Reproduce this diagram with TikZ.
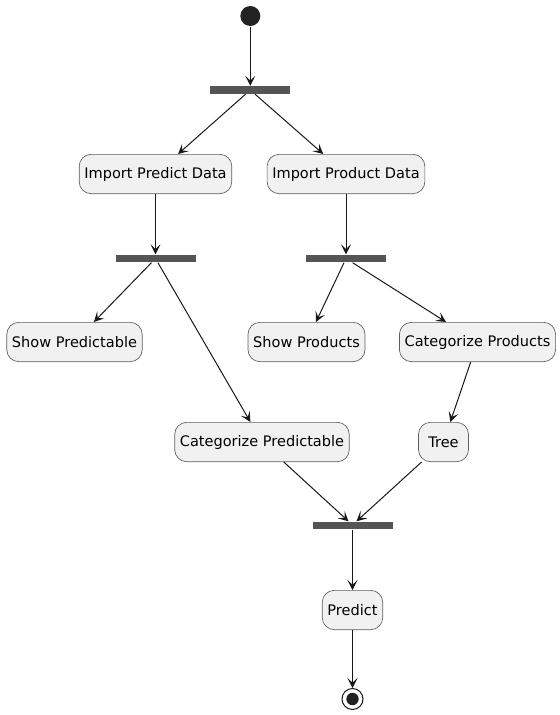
\documentclass[tikz,border=0pt]{standalone}
\usepackage{fontspec}
\setmainfont{DejaVu Sans}
\usetikzlibrary{arrows.meta}
\definecolor{actfill}{HTML}{F1F1F1}
\definecolor{actline}{HTML}{181818}
\definecolor{bargray}{HTML}{555555}
\definecolor{dotblack}{HTML}{222222}
\tikzset{every picture/.style={line width=0.75pt}}

\begin{document}
\begin{tikzpicture}[x=0.75pt,y=0.75pt,yscale=-1,xscale=1,
	action/.style={draw=actline!70, line width=0.5pt, fill=actfill, rounded corners=9pt, minimum height=29.5pt, minimum width=37.5pt, inner xsep=3.9pt, font=\fontsize{10.9}{13}\selectfont},
	forkbar/.style={fill=bargray, minimum width=60pt, minimum height=5.5pt, inner sep=0pt},
	flow/.style={draw=actline, -{Stealth[length=7.5pt,width=7.5pt,inset=3.5pt]}}]
	%set diagram size 560 x 715
	\path (0,0) rectangle (560,715);

	%Start and end
	\node [circle, fill=dotblack, minimum size=15pt, inner sep=0pt] (start) at (250.3,16) {};
	\node [circle, draw=actline, line width=0.75pt, fill=white, minimum size=15.75pt, inner sep=0pt] (stop) at (352.5,699) {};
	\fill [dotblack] (stop) circle (6.2);

	%Fork bars
	\node [forkbar] (fork1) at (250.3,90) {};
	\node [forkbar] (fork2) at (155.5,258.5) {};
	\node [forkbar] (fork3) at (346,258.5) {};
	\node [forkbar] (join) at (352.5,525.5) {};

	%Actions
	\node [action] (impPredict) at (155.5,174) {Import Predict Data};
	\node [action] (impProduct) at (346,174) {Import Product Data};
	\node [action] (showPred) at (74.5,342) {Show Predictable};
	\node [action] (showProd) at (306.5,342) {Show Products};
	\node [action] (catProd) at (477.5,342) {Categorize Products};
	\node [action] (catPred) at (262,442) {Categorize Predictable};
	\node [action] (tree) at (443.5,442) {Tree};
	\node [action] (predict) at (352.5,610) {Predict};

	%Flows
	\draw [flow] (start) -- (fork1);
	\draw [flow] (fork1) -- (impPredict);
	\draw [flow] (fork1) -- (impProduct);
	\draw [flow] (impPredict) -- (fork2);
	\draw [flow] (impProduct) -- (fork3);
	\draw [flow] (fork2) -- (showPred);
	\draw [flow] (fork2) -- (catPred);
	\draw [flow] (fork3) -- (showProd);
	\draw [flow] (fork3) -- (catProd);
	\draw [flow] (catProd) -- (tree);
	\draw [flow] (catPred) -- ([xshift=-3pt]join.north);
	\draw [flow] (tree) -- ([xshift=3pt]join.north);
	\draw [flow] (join) -- (predict);
	\draw [flow] (predict) -- (stop);

\end{tikzpicture}
\end{document}
